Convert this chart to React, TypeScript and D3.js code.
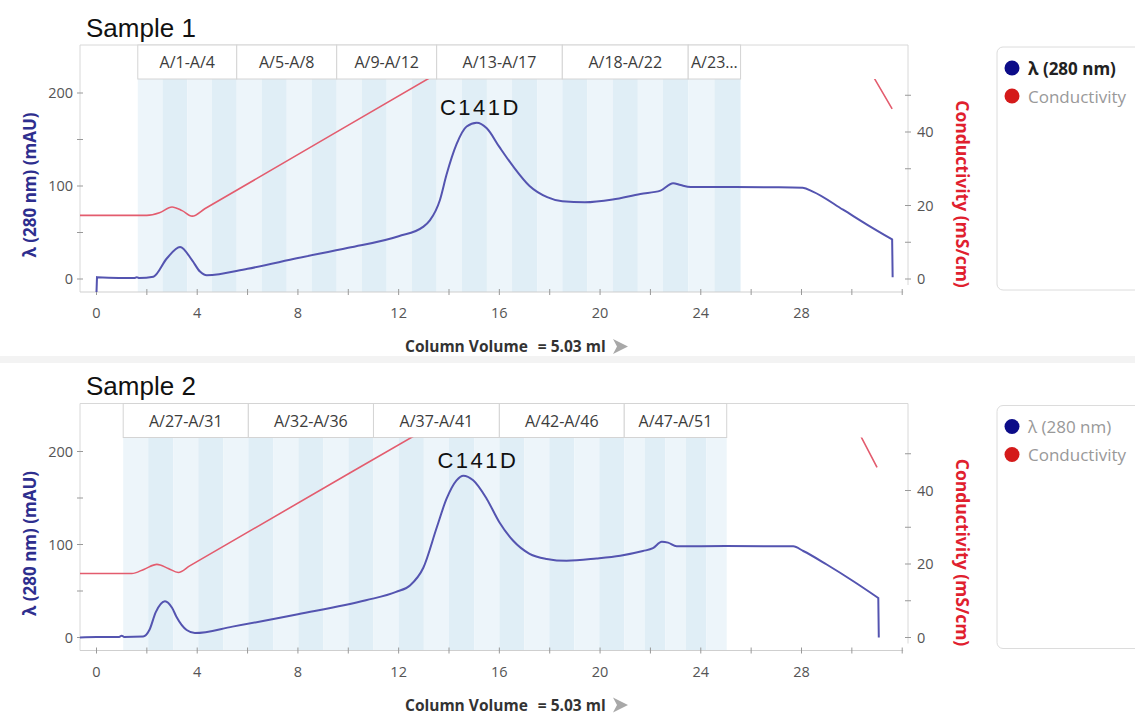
import React from "react";
import * as d3 from "d3";

type Pt = [number, number];

// UV 280 nm trace (column volume, mAU)
const uvSample1: Pt[] = [
  [0, -14], [0.02, 2], [1.5, 1], [1.6, 2], [1.7, 1], [2.26, 2.5], [2.79, 22], [3.32, 34.5],
  [3.8, 20], [4.11, 8], [4.38, 4], [6, 11], [8, 22.5], [10, 33.5], [12, 46], [12.97, 56],
  [13.24, 63], [13.64, 85], [13.9, 112], [14.3, 145], [14.7, 164], [15.1, 168],
  [15.5, 162], [16.0, 142], [16.55, 121], [17.2, 100], [17.9, 88], [18.5, 83.5], [19.4, 82.5],
  [20.5, 85.5], [21.6, 91.5], [22.4, 95], [22.9, 103], [23.2, 101], [23.6, 99], [27.1, 98.6],
  [28.05, 98], [28.45, 94], [29.65, 74.5], [30.6, 58.5], [31.6, 42.5], [31.62, 2],
];
// conductivity (column volume, mS/cm)
const condSample1: Pt[] = [
  [-0.66, 17.3], [2.0, 17.3], [2.5, 18], [3.0, 19.6], [3.4, 18.6], [3.8, 17.1], [4.3, 19.1],
  [13.25, 54.8], [22, 89.8], [26, 100], [27, 100], [30.9, 54.5], [31.6, 46.3],
];

const uvSample2: Pt[] = [
  [-0.66, 0], [0, 0.5], [0.9, 0.5], [1.0, 2], [1.1, 0.5], [1.85, 1], [2.1, 8], [2.35, 27],
  [2.72, 39], [3.0, 32], [3.18, 22], [3.58, 8], [3.91, 4.8], [5.4, 11.7], [8, 25],
  [10.7, 40], [11.9, 49], [12.45, 56], [12.98, 75], [13.51, 118], [13.9, 149], [14.3, 169],
  [14.57, 174], [14.96, 169], [15.5, 149], [16.0, 124], [16.55, 104], [17.2, 90], [17.88, 84.5],
  [18.67, 82.5], [19.86, 85], [20.8, 88], [21.7, 93], [22.1, 96], [22.45, 103], [22.7, 102],
  [23.04, 98], [25, 98.5], [27.67, 98], [28.07, 93], [29.0, 78.5], [30.06, 60.5], [31.05, 42.5],
  [31.07, 0],
];
const condSample2: Pt[] = [
  [-0.66, 17.4], [1.4, 17.4], [1.9, 18.6], [2.4, 19.9], [2.85, 18.8], [3.25, 17.7], [3.7, 19.5],
  [12.6, 54.8], [22, 92], [26, 100], [26.5, 100], [30.4, 54.2], [31.0, 46.3],
];

// fraction groups: edges in CV, fractions per group, header labels
const fracEdges1 = [1.64, 5.57, 9.54, 13.51, 18.5, 23.5, 25.58];
const fracCounts1 = [4, 4, 4, 5, 5, 2];
const fracLabels1 = ["A/1-A/4", "A/5-A/8", "A/9-A/12", "A/13-A/17", "A/18-A/22", "A/23…"];
const fracEdges2 = [1.06, 6.03, 11.0, 16.0, 20.96, 25.03];
const fracCounts2 = [5, 5, 5, 5, 5];
const fracLabels2 = ["A/27-A/31", "A/32-A/36", "A/37-A/41", "A/42-A/46", "A/47-A/51"];

const xTicks = [0, 2, 4, 6, 8, 10, 12, 14, 16, 18, 20, 22, 24, 26, 28, 30, 32];
const xLabels = [0, 4, 8, 12, 16, 20, 24, 28];
const uvTicks = [0, 50, 100, 150, 200];
const uvLabels = [0, 100, 200];
const condTicks = [0, 10, 20, 30, 40, 50];
const condLabels = [0, 20, 40];

const peakName = "C141D";
const peakLabelX1 = 15.25;
const peakLabelX2 = 15.15;

const UV_COLOR = "#5454b0";
const COND_COLOR = "#e35c6e";
const FONT = "'Open Sans', 'DejaVu Sans', sans-serif";

// smooth runs, but straight vertical steps where the trace jumps (start/end of run)
function tracePath(pts: Pt[], sx: (v: number) => number, sy: (v: number) => number) {
  const line = d3.line<Pt>().x(d => sx(d[0])).y(d => sy(d[1])).curve(d3.curveMonotoneX);
  const runs: Pt[][] = [[pts[0]]];
  for (let i = 1; i < pts.length; i++) {
    if (pts[i][0] - pts[i - 1][0] < 0.05) runs.push([pts[i]]);
    else runs[runs.length - 1].push(pts[i]);
  }
  return runs.map((r, i) => {
    const s = r.length === 1 ? `M${sx(r[0][0])},${sy(r[0][1])}` : (line(r) || "");
    return i === 0 ? s : s.replace(/^M/, "L");
  }).join("");
}

function Panel(props: {
  id: string; dy: number; title: string; uv: Pt[]; cond: Pt[];
  edges: number[]; counts: number[]; labels: string[]; peakX: number; boldLegend: boolean;
}) {
  const { id, dy, title, uv, cond, edges, counts, labels, peakX, boldLegend } = props;
  const x = d3.scaleLinear().domain([0, 28]).range([96.5, 801.5]);
  const yL = d3.scaleLinear().domain([0, 200]).range([279, 93]);
  const yR = d3.scaleLinear().domain([0, 40]).range([279, 132]);

  const frameL = 80, frameR = 908, frameT = 45, headB = 79, axisY = 292;

  // individual fraction stripes
  const stripes: { x0: number; x1: number; k: number }[] = [];
  let k = 0;
  counts.forEach((n, i) => {
    const w = (edges[i + 1] - edges[i]) / n;
    for (let j = 0; j < n; j++) {
      stripes.push({ x0: edges[i] + j * w, x1: edges[i] + (j + 1) * w, k: k++ });
    }
  });

  const peak = uv.reduce((a, b) => (b[1] > a[1] ? b : a));

  return (
    <g transform={`translate(0,${dy})`}>
      <defs>
        <clipPath id={id}>
          <rect x={frameL} y={headB} width={frameR - frameL} height={axisY - headB} />
        </clipPath>
      </defs>
      <text x={86} y={36.5} fontFamily="'Liberation Sans', Arial, sans-serif" fontSize={26} fill="#111">{title}</text>

      {stripes.map(s => (
        <rect key={s.k} x={x(s.x0)} y={headB} width={x(s.x1) - x(s.x0)} height={axisY - headB}
          fill={s.k % 2 === 0 ? "#edf5fa" : "#e0eef6"} />
      ))}

      {/* frame */}
      <line x1={frameL} x2={frameR} y1={frameT} y2={frameT} stroke="#d8d8d8" />
      <line x1={frameL} x2={frameL} y1={frameT} y2={axisY} stroke="#d8d8d8" />
      <line x1={frameR} x2={frameR} y1={frameT} y2={285} stroke="#d8d8d8" />
      <line x1={frameL} x2={x(32) + 1} y1={axisY} y2={axisY} stroke="#cfcfcf" />

      {/* fraction headers */}
      {labels.map((l, i) => (
        <g key={l}>
          <rect x={x(edges[i])} y={frameT} width={x(edges[i + 1]) - x(edges[i])} height={headB - frameT}
            fill="#fff" stroke="#d4d4d4" />
          <text x={(x(edges[i]) + x(edges[i + 1])) / 2} y={68} textAnchor="middle" fontFamily={FONT}
            fontSize={16} fill="#3c3c3c">{l}</text>
        </g>
      ))}

      {/* x axis */}
      {xTicks.map(t => (
        <line key={t} x1={x(t)} x2={x(t)} y1={axisY - 3} y2={axisY + 3} stroke="#999" />
      ))}
      {xLabels.map(t => (
        <text key={t} x={x(t)} y={318} textAnchor="middle" fontFamily={FONT} fontSize={14.5} fill="#555">{t}</text>
      ))}
      <text x={405} y={352} fontFamily={FONT} fontSize={15.5} fontWeight="bold" fill="#333">
        Column Volume<tspan dx={10}>= 5.03 ml</tspan>
      </text>
      <path d="M613,339 L628,346.5 L613,354 L617,346.5 Z" fill="#a8a8a8" />

      {/* left axis */}
      {uvTicks.map(t => (
        <line key={t} x1={frameL - 3} x2={frameL + 3} y1={yL(t)} y2={yL(t)} stroke="#999" />
      ))}
      {uvLabels.map(t => (
        <text key={t} x={73} y={yL(t) + 5} textAnchor="end" fontFamily={FONT} fontSize={14.5} fill="#555">{t}</text>
      ))}
      <text transform={`translate(36,185) rotate(-90)`} textAnchor="middle" fontFamily={FONT} fontSize={17}
        fontWeight="bold" fill="#2e2e8e">λ (280 nm) (mAU)</text>

      {/* right axis */}
      {condTicks.map(t => (
        <line key={t} x1={frameR - 3} x2={frameR + 3} y1={yR(t)} y2={yR(t)} stroke="#999" />
      ))}
      {condLabels.map(t => (
        <text key={t} x={917} y={yR(t) + 5} fontFamily={FONT} fontSize={14.5} fill="#555">{t}</text>
      ))}
      <text transform={`translate(956,194) rotate(90)`} textAnchor="middle" fontFamily={FONT} fontSize={17.5}
        fontWeight="bold" fill="#e0202e">Conductivity (mS/cm)</text>

      {/* traces */}
      <g clipPath={`url(#${id})`}>
        <path d={tracePath(cond, x, yR)} fill="none" stroke={COND_COLOR} strokeWidth={1.6} />
        <path d={tracePath(uv, x, yL)} fill="none" stroke={UV_COLOR} strokeWidth={2} />
      </g>
      <text x={x(peakX)} y={yL(peak[1]) - 8} textAnchor="middle" fontFamily="'Liberation Sans', Arial, sans-serif"
        fontSize={22} letterSpacing={2.5} fill="#111">{peakName}</text>

      {/* legend */}
      <rect x={997} y={47} width={160} height={243} rx={6} fill="#fff" stroke="#dcdcdc" />
      <circle cx={1012} cy={68} r={7.5} fill="#0c0c88" />
      <circle cx={1012} cy={96} r={7.5} fill="#d41a1a" />
      <text x={1028} y={74.5} fontFamily={FONT} fontSize={17} fontWeight={boldLegend ? "bold" : "normal"}
        fill={boldLegend ? "#222" : "#999"}>λ (280 nm)</text>
      <text x={1028} y={102.5} fontFamily={FONT} fontSize={17} fill="#999">Conductivity</text>
    </g>
  );
}

export default function App() {
  return (
    <svg width={1135} height={717} style={{ display: "block", position: "absolute", left: 0, top: 0 }}>
      <rect width={1135} height={717} fill="#fff" />
      <rect x={0} y={356} width={1135} height={7} fill="#f3f3f3" />
      <Panel id="clip1" dy={0} title="Sample 1" uv={uvSample1} cond={condSample1}
        edges={fracEdges1} counts={fracCounts1} labels={fracLabels1} peakX={peakLabelX1} boldLegend={true} />
      <Panel id="clip2" dy={358.5} title="Sample 2" uv={uvSample2} cond={condSample2}
        edges={fracEdges2} counts={fracCounts2} labels={fracLabels2} peakX={peakLabelX2} boldLegend={false} />
    </svg>
  );
}
